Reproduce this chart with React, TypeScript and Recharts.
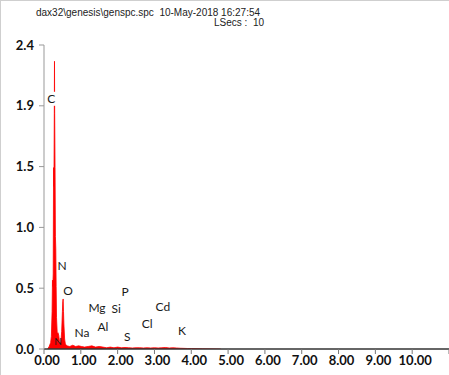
import React from "react";
import { ComposedChart, Area, Scatter, XAxis, YAxis } from "recharts";

// spectrum energies (keV) and counts (in axis units)
const ENERGY = [
  0.1, 0.14, 0.18, 0.2, 0.22, 0.23, 0.24, 0.25, 0.26, 0.27, 0.28, 0.285, 0.29, 0.3, 0.31, 0.32, 0.33,
  0.34, 0.36, 0.38, 0.4, 0.42, 0.44, 0.46, 0.48, 0.5, 0.51, 0.52, 0.53, 0.54, 0.56, 0.58,
  0.62, 0.7, 0.78, 0.86, 0.94, 1.02, 1.1, 1.2, 1.3, 1.4, 1.5, 1.6, 1.7, 1.8, 1.9, 2.0,
  2.1, 2.2, 2.3, 2.4, 2.5, 2.6, 2.7, 2.8, 2.9, 3.0, 3.1, 3.2, 3.3, 3.4, 3.5, 3.6, 3.7,
  3.8, 3.9, 4.0, 4.3, 4.8,
];
const COUNTS = [
  0.0, 0.02, 0.05, 0.1, 0.3, 0.55, 0.5, 0.6, 1.45, 1.3, 1.88, 2.3, 1.88, 1.45, 0.9, 0.8, 0.5,
  0.25, 0.12, 0.13, 0.11, 0.06, 0.04, 0.06, 0.14, 0.3, 0.38, 0.4, 0.3, 0.2, 0.08, 0.04,
  0.025, 0.02, 0.03, 0.02, 0.025, 0.02, 0.015, 0.02, 0.025, 0.015, 0.02, 0.015, 0.01, 0.015, 0.01, 0.015,
  0.01, 0.012, 0.01, 0.008, 0.01, 0.01, 0.008, 0.01, 0.008, 0.01, 0.008, 0.01, 0.012, 0.008, 0.01, 0.008, 0.006,
  0.005, 0.004, 0.004, 0.002, 0.0,
];

// element labels: name, energy position, height
const EL_NAMES = ["C", "N", "O", "Na", "Mg", "Al", "Si", "P", "S", "Cl", "Cd", "K"];
const EL_KEV = [0.2, 0.49, 0.65, 1.03, 1.44, 1.6, 1.96, 2.2, 2.26, 2.8, 3.23, 3.75];
const EL_Y = [2.0, 0.67, 0.47, 0.13, 0.33, 0.18, 0.32, 0.46, 0.1, 0.2, 0.34, 0.15];

// label sitting on the peak base
const BASE_NAMES = ["N"];
const BASE_KEV = [0.38];
const BASE_Y = [0.06];

const X_TICKS = [0, 1, 2, 3, 4, 5, 6, 7, 8, 9, 10, 11];
const Y_TICKS = [0, 0.486, 0.972, 1.458, 1.944, 2.43];

const spectrum = ENERGY.map((e, i) => ({ e, v: COUNTS[i] }));
const labels = EL_NAMES.map((name, i) => ({ e: EL_KEV[i], v: EL_Y[i], name }));
const baseLabels = BASE_NAMES.map((name, i) => ({ e: BASE_KEV[i], v: BASE_Y[i], name }));

const FONT = "Lato, 'Open Sans', sans-serif";

const ElementLabel = (props: any) => {
  const { cx, cy, payload } = props;
  const w = payload.name.length * 8 + 2;
  return (
    <g>
      <rect x={cx - w / 2} y={cy - 7} width={w} height={14} fill="#fff" />
      <text x={cx} y={cy} textAnchor="middle" dominantBaseline="central" fontFamily={FONT} fontSize={12} fill="#1a1a1a">
        {payload.name}
      </text>
    </g>
  );
};

const BaseLabel = (props: any) => {
  const { cx, cy, payload } = props;
  return (
    <text x={cx} y={cy} textAnchor="middle" dominantBaseline="central" fontFamily={FONT} fontSize={10} fill="#1a1a1a">
      {payload.name}
    </text>
  );
};

const tickFont = { fontFamily: FONT, fontSize: 13, fontWeight: 700, fill: "#111" };

export default function App() {
  return (
    <div
      style={{
        position: "absolute",
        left: 0,
        top: 0,
        width: 449,
        height: 375,
        background: "#fff",
        borderLeft: "1px solid #cfcfcf",
        borderTop: "1px solid #cfcfcf",
        boxSizing: "border-box",
      }}
    >
      <div
        style={{
          position: "absolute",
          left: 35,
          top: 6,
          fontFamily: "'Liberation Sans Narrow', 'Liberation Sans', Arial, sans-serif",
          fontSize: 10,
          color: "#222",
          whiteSpace: "pre",
        }}
      >
        {"dax32\\genesis\\genspc.spc  10-May-2018 16:27:54"}
      </div>
      <div
        style={{
          position: "absolute",
          left: 213,
          top: 16,
          fontFamily: "'Liberation Sans Narrow', 'Liberation Sans', Arial, sans-serif",
          fontSize: 10,
          color: "#222",
          whiteSpace: "pre",
        }}
      >
        {"LSecs :  10"}
      </div>
      <div style={{ position: "absolute", left: -1, top: -1 }}>
        <ComposedChart width={449} height={375} margin={{ top: 45, right: 0, bottom: 0, left: 0 }}>
          <XAxis
            type="number"
            dataKey="e"
            domain={[0, 11]}
            ticks={X_TICKS}
            interval={0}
            allowDataOverflow
            height={26}
            axisLine={{ stroke: "#333", strokeWidth: 1.5 }}
            tickLine={{ stroke: "#777" }}
            tickSize={5}
            tick={{ ...tickFont, dx: 3 }}
            tickFormatter={(v: number) => (v > 10 ? "" : v.toFixed(2))}
          />
          <YAxis
            type="number"
            dataKey="v"
            domain={[0, 2.43]}
            ticks={Y_TICKS}
            interval={0}
            allowDataOverflow
            width={44}
            axisLine={{ stroke: "#999" }}
            tickLine={{ stroke: "#999" }}
            tickSize={5}
            tickMargin={5}
            tick={tickFont}
            tickFormatter={(v: number) => v.toFixed(1)}
          />
          <Area
            data={spectrum}
            dataKey="v"
            type="linear"
            stroke="#ff0000"
            strokeWidth={0.8}
            strokeLinejoin="round"
            fill="#ff0000"
            fillOpacity={1}
            isAnimationActive={false}
            dot={false}
            activeDot={false}
          />
          <Scatter data={labels} dataKey="v" shape={ElementLabel} isAnimationActive={false} />
          <Scatter data={baseLabels} dataKey="v" shape={BaseLabel} isAnimationActive={false} />
        </ComposedChart>
      </div>
    </div>
  );
}
